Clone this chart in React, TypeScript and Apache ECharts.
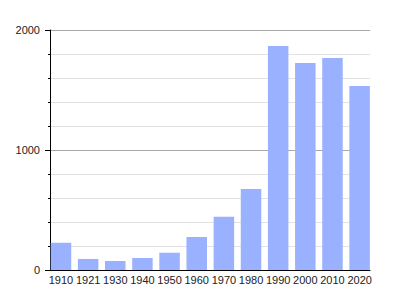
import React, { useEffect, useRef } from "react";
import * as echarts from "echarts";

const categories = ["1910", "1921", "1930", "1940", "1950", "1960", "1970", "1980", "1990", "2000", "2010", "2020"];
const values = [227, 92, 75, 100, 144, 275, 444, 675, 1867, 1725, 1767, 1533];
const yTicks = [0, 1000, 2000];

export default function App() {
  const ref = useRef<HTMLDivElement>(null);
  useEffect(() => {
    if (!ref.current) return;
    const chart = echarts.init(ref.current, undefined, { renderer: "svg" });
    const font = "Liberation Sans, Arial, sans-serif";
    chart.setOption({
      animation: false,
      grid: [
        { left: 50, right: 30, top: 30, bottom: 30 },
        { left: 47.4, width: 325.8, top: 30, bottom: 30 },
      ],
      xAxis: [
        {
          gridIndex: 0,
          type: "category",
          data: categories,
          axisLine: { show: true, lineStyle: { color: "#000", width: 1 } },
          axisTick: { show: false },
          axisLabel: { show: false },
          splitLine: { show: false },
        },
        {
          gridIndex: 1,
          type: "category",
          data: categories,
          axisLine: { show: false },
          axisTick: { show: false },
          axisLabel: { show: true, interval: 0, margin: 4, fontSize: 11, color: "#222", fontFamily: font },
          splitLine: { show: false },
        },
      ],
      yAxis: [
        {
          gridIndex: 0,
          type: "value",
          min: yTicks[0],
          max: yTicks[yTicks.length - 1],
          interval: 1000,
          axisLine: { show: true, lineStyle: { color: "#000", width: 1 } },
          axisTick: { show: true, length: 5, lineStyle: { color: "#000" } },
          minorTick: { show: true, splitNumber: 5, length: 2, lineStyle: { color: "#000" } },
          axisLabel: { margin: 10, fontSize: 11, color: "#222", fontFamily: font, formatter: (v: number) => String(v) },
          splitLine: { show: true, lineStyle: { color: "#a8a8a8", width: 1 } },
          minorSplitLine: { show: true, lineStyle: { color: "#e2e2e2", width: 1 } },
        },
        {
          gridIndex: 1,
          type: "value",
          min: yTicks[0],
          max: yTicks[yTicks.length - 1],
          interval: 1000,
          show: false,
          splitLine: { show: false },
        },
      ],
      series: [
        {
          type: "bar",
          xAxisIndex: 1,
          yAxisIndex: 1,
          data: values,
          barWidth: 20.5,
          itemStyle: { color: "#9ab1ff" },
        },
      ],
    });
    return () => chart.dispose();
  }, []);
  return <div ref={ref} style={{ width: 400, height: 300, position: "absolute", left: 0, top: 0 }} />;
}
